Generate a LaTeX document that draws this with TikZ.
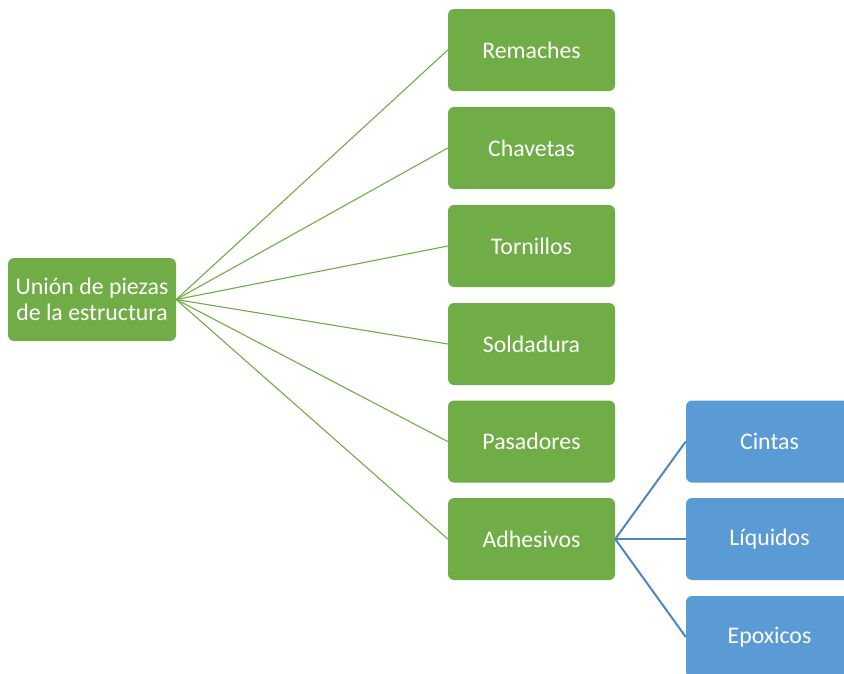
\documentclass[tikz,border=0pt]{standalone}
\usepackage{fontspec}
\setmainfont{Carlito}
\definecolor{gbox}{HTML}{70AD47}
\definecolor{bbox}{HTML}{5B9BD5}
\definecolor{bline}{HTML}{4F86C0}
\begin{document}
\begin{tikzpicture}[x=1pt,y=-1pt,
  box/.style={rectangle,rounded corners=6pt,minimum width=167pt,minimum height=82pt,
    inner sep=0pt,text=white,font=\fontsize{23.8}{26.5}\selectfont,align=center},
  gnode/.style={box,fill=gbox},
  bnode/.style={box,fill=bbox},
  gline/.style={draw=gbox,line width=1.1pt},
  bline/.style={draw=bline,line width=2pt}]
\clip (0,0) rectangle (844,673);
\fill[white] (0,0) rectangle (844,673);
\node[gnode,minimum width=168pt,minimum height=83pt] (root) at (92,299.5) {Unión de piezas\\de la estructura};
\node[gnode] (g1) at (531.5,50) {Remaches};
\node[gnode] (g2) at (531.5,148) {Chavetas};
\node[gnode] (g3) at (531.5,246) {Tornillos};
\node[gnode] (g4) at (531.5,344) {Soldadura};
\node[gnode] (g5) at (531.5,441.5) {Pasadores};
\node[gnode] (g6) at (531.5,539) {Adhesivos};
\node[bnode] (b1) at (769.5,441.5) {Cintas};
\node[bnode] (b2) at (769.5,539) {Líquidos};
\node[bnode] (b3) at (769.5,637) {Epoxicos};
\foreach \g in {g1,g2,g3,g4,g5,g6} \draw[gline] (root.east) -- (\g.west);
\foreach \b in {b1,b2,b3} \draw[bline] (g6.east) -- (\b.west);
\end{tikzpicture}
\end{document}
